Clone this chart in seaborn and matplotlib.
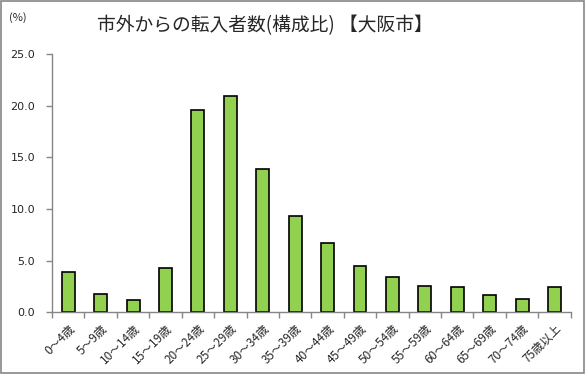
import matplotlib
matplotlib.use("Agg")
import matplotlib.pyplot as plt
import seaborn as sns
import pandas as pd
import numpy as np
from matplotlib.patches import Rectangle

categories = ["0～4歳", "5～9歳", "10～14歳", "15～19歳", "20～24歳", "25～29歳",
              "30～34歳", "35～39歳", "40～44歳", "45～49歳", "50～54歳", "55～59歳",
              "60～64歳", "65～69歳", "70～74歳", "75歳以上"]
values = [3.9, 1.8, 1.2, 4.3, 19.6, 20.9, 13.9, 9.3, 6.7, 4.5, 3.4, 2.5, 2.4, 1.7, 1.3, 2.4]
yticks = [0.0, 5.0, 10.0, 15.0, 20.0, 25.0]
title = "市外からの転入者数(構成比) 【大阪市】"

sns.set_theme(style="white")
plt.rcParams['font.family'] = ['Noto Sans CJK JP', 'DejaVu Sans']

df = pd.DataFrame({"cat": categories, "val": values})

fig = plt.figure(figsize=(5.86, 3.74), dpi=100)
ax = fig.add_axes([0.0887, 0.165, 0.974 - 0.0887, 0.856 - 0.165])
sns.barplot(data=df, x="cat", y="val", color="#92D050", saturation=1, width=0.4,
            edgecolor="black", linewidth=1.2, ax=ax)

ax.set_xlim(-0.5, len(categories) - 0.5)
ax.set_ylim(0, 25)
ax.set_yticks(yticks)
ax.set_yticklabels([f"{v:.1f}" for v in yticks], fontsize=8, family=['DejaVu Sans'])
ax.set_xlabel("")
ax.set_ylabel("")

ax.set_xticks(range(len(categories)))
ax.set_xticklabels(categories, rotation=45, ha="right", rotation_mode="anchor", fontsize=8.5)
ax.set_xticks(np.arange(-0.5, len(categories) + 0.5, 1), minor=True)
ax.tick_params(axis="x", which="major", length=0, pad=7)
ax.tick_params(axis="x", which="minor", length=4, color="#868686", width=1, direction="out")
ax.tick_params(axis="y", length=4, color="#868686", width=1, direction="out", pad=8)
ax.tick_params(axis="x", which="minor", bottom=True)
ax.tick_params(axis="y", left=True)

for s in ["top", "right"]:
    ax.spines[s].set_visible(False)
for s in ["left", "bottom"]:
    ax.spines[s].set_color("#868686")
    ax.spines[s].set_linewidth(1)

fig.text(0.452, 0.932, title, ha="center", va="center", fontsize=13.5)
fig.text(0.015, 0.952, "(%)", ha="left", va="center", fontsize=8)

fig.patches.append(Rectangle((0.002, 0.003), 0.995, 0.994, transform=fig.transFigure,
                             fill=False, edgecolor="#868686", linewidth=1.2))

fig.savefig("out.png", dpi=100)
